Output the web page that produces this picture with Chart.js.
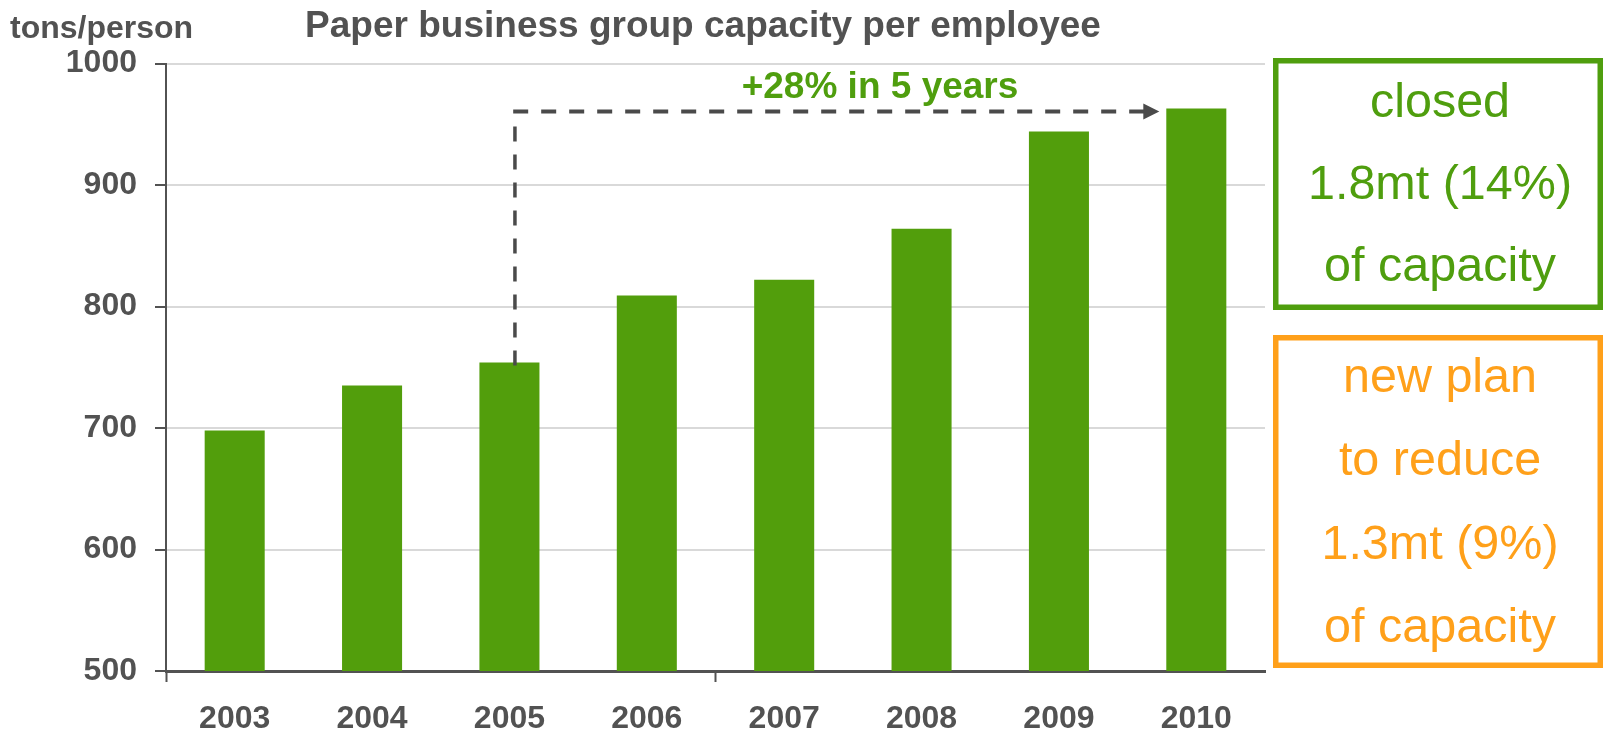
<!DOCTYPE html>
<html>
<head>
<meta charset="utf-8">
<script src="https://cdn.jsdelivr.net/npm/chart.js@4.4.0/dist/chart.umd.min.js"></script>
<style>
  html, body { margin: 0; padding: 0; background: #ffffff; }
  #wrap { width: 1604px; height: 732px; position: relative; }
</style>
</head>
<body>
<div id="wrap"><canvas id="c"></canvas></div>
<script>
// Data
const years = ['2003', '2004', '2005', '2006', '2007', '2008', '2009', '2010'];
const capacityPerEmployee = [698, 735, 754, 809, 822, 864, 944, 963];
const yTickValues = [500, 600, 700, 800, 900, 1000];

// Texts
const chartTitle = 'Paper business group capacity per employee';
const unitLabel = 'tons/person';
const growthLabel = '+28% in 5 years';
const closedNote = ['closed', '1.8mt (14%)', 'of capacity'];
const planNote = ['new plan', 'to reduce', '1.3mt (9%)', 'of capacity'];
const growthFromIndex = 2;   // 2005
const growthToIndex = 7;     // 2010

// Styles
const FONT = '"Liberation Sans", Arial, Helvetica, sans-serif';
const GREY = '#525252';
const BAR_GREEN = '#529E0C';
const TEXT_GREEN = '#4F9E0E';
const ORANGE = '#FFA01A';

const overlay = {
  id: 'overlay',
  afterDatasetsDraw(chart) {
    const ctx = chart.ctx;
    const meta = chart.getDatasetMeta(0);
    const from = meta.data[growthFromIndex];
    const to = meta.data[growthToIndex];
    const yTop = chart.scales.y.getPixelForValue(capacityPerEmployee[growthToIndex]) + 3;
    const xV = from.x + 5.5;
    const yBottom = from.y + 3;
    const tipX = to.x - to.width / 2 - 7;
    const headLen = 16;

    ctx.save();
    ctx.strokeStyle = '#4A4A4A';
    ctx.fillStyle = '#4A4A4A';
    ctx.lineCap = 'butt';
    ctx.setLineDash([15, 13]);
    // horizontal leg
    ctx.lineWidth = 4;
    ctx.beginPath();
    ctx.moveTo(xV - 1.75, yTop);
    ctx.lineTo(tipX - headLen + 2, yTop);
    ctx.stroke();
    // vertical leg
    ctx.lineWidth = 3.5;
    ctx.beginPath();
    ctx.moveTo(xV, yTop + 15);
    ctx.lineTo(xV, yBottom);
    ctx.stroke();
    ctx.setLineDash([]);
    // arrow head
    ctx.beginPath();
    ctx.moveTo(tipX - headLen, yTop - 8);
    ctx.lineTo(tipX, yTop);
    ctx.lineTo(tipX - headLen, yTop + 8);
    ctx.closePath();
    ctx.fill();
    ctx.restore();
  },
  afterDraw(chart) {
    const ctx = chart.ctx;
    ctx.save();
    // title and unit
    ctx.fillStyle = GREY;
    ctx.textBaseline = 'alphabetic';
    ctx.font = 'bold 37px ' + FONT;
    ctx.textAlign = 'center';
    ctx.fillText(chartTitle, 703, 37);
    ctx.font = 'bold 32px ' + FONT;
    ctx.textAlign = 'left';
    ctx.fillText(unitLabel, 10, 38);

    // growth label
    ctx.fillStyle = TEXT_GREEN;
    ctx.font = 'bold 37px ' + FONT;
    ctx.textAlign = 'center';
    ctx.fillText(growthLabel, 880, 98);

    // note boxes
    const drawBox = (color, x1, y1, x2, y2, lines, firstBaseline, step) => {
      const lw = 5.5;
      ctx.strokeStyle = color;
      ctx.lineWidth = lw;
      ctx.strokeRect(x1 + lw / 2, y1 + lw / 2, x2 - x1 - lw, y2 - y1 - lw);
      ctx.fillStyle = color;
      ctx.font = '48.5px ' + FONT;
      ctx.textAlign = 'center';
      lines.forEach((t, i) => ctx.fillText(t, (x1 + x2) / 2 + 2, firstBaseline + i * step));
    };
    drawBox(TEXT_GREEN, 1273, 58, 1603, 310, closedNote, 117, 82);
    drawBox(ORANGE, 1273, 335, 1603, 668, planNote, 392, 83.3);
    ctx.restore();
  }
};

new Chart(document.getElementById('c'), {
  type: 'bar',
  data: {
    labels: years,
    datasets: [{
      data: capacityPerEmployee,
      backgroundColor: BAR_GREEN,
      borderWidth: 0,
      barPercentage: 0.437,
      categoryPercentage: 1.0
    }]
  },
  options: {
    responsive: true,
    maintainAspectRatio: false,
    animation: false,
    layout: { padding: { left: 0, right: 339, top: 63.5, bottom: 0 } },
    plugins: {
      legend: { display: false },
      tooltip: { enabled: false },
      title: { display: false }
    },
    scales: {
      x: {
        offset: true,
        grid: {
          offset: true,
          drawOnChartArea: false,
          drawTicks: true,
          tickLength: 11,
          tickWidth: 2,
          tickColor: (c) => (c.index % 4 === 0 ? GREY : 'rgba(0,0,0,0)')
        },
        border: { display: true, color: GREY, width: 3 },
        ticks: {
          color: GREY,
          font: { family: FONT, size: 32, weight: 'bold' },
          padding: 18,
          maxRotation: 0,
          autoSkip: false
        },
        afterFit(scale) { scale.height = 61; }
      },
      y: {
        min: 500,
        max: 1000,
        afterBuildTicks(scale) { scale.ticks = yTickValues.map(v => ({ value: v })); },
        grid: {
          color: '#D9D9D9',
          lineWidth: 2,
          drawTicks: true,
          tickLength: 11,
          tickColor: GREY,
          tickWidth: 2
        },
        border: { display: true, color: GREY, width: 2 },
        ticks: {
          color: GREY,
          font: { family: FONT, size: 32, weight: 'bold' },
          padding: 18,
          callback: (v) => String(v)
        },
        afterFit(scale) { scale.width = 166; }
      }
    }
  },
  plugins: [overlay]
});
</script>
</body>
</html>
